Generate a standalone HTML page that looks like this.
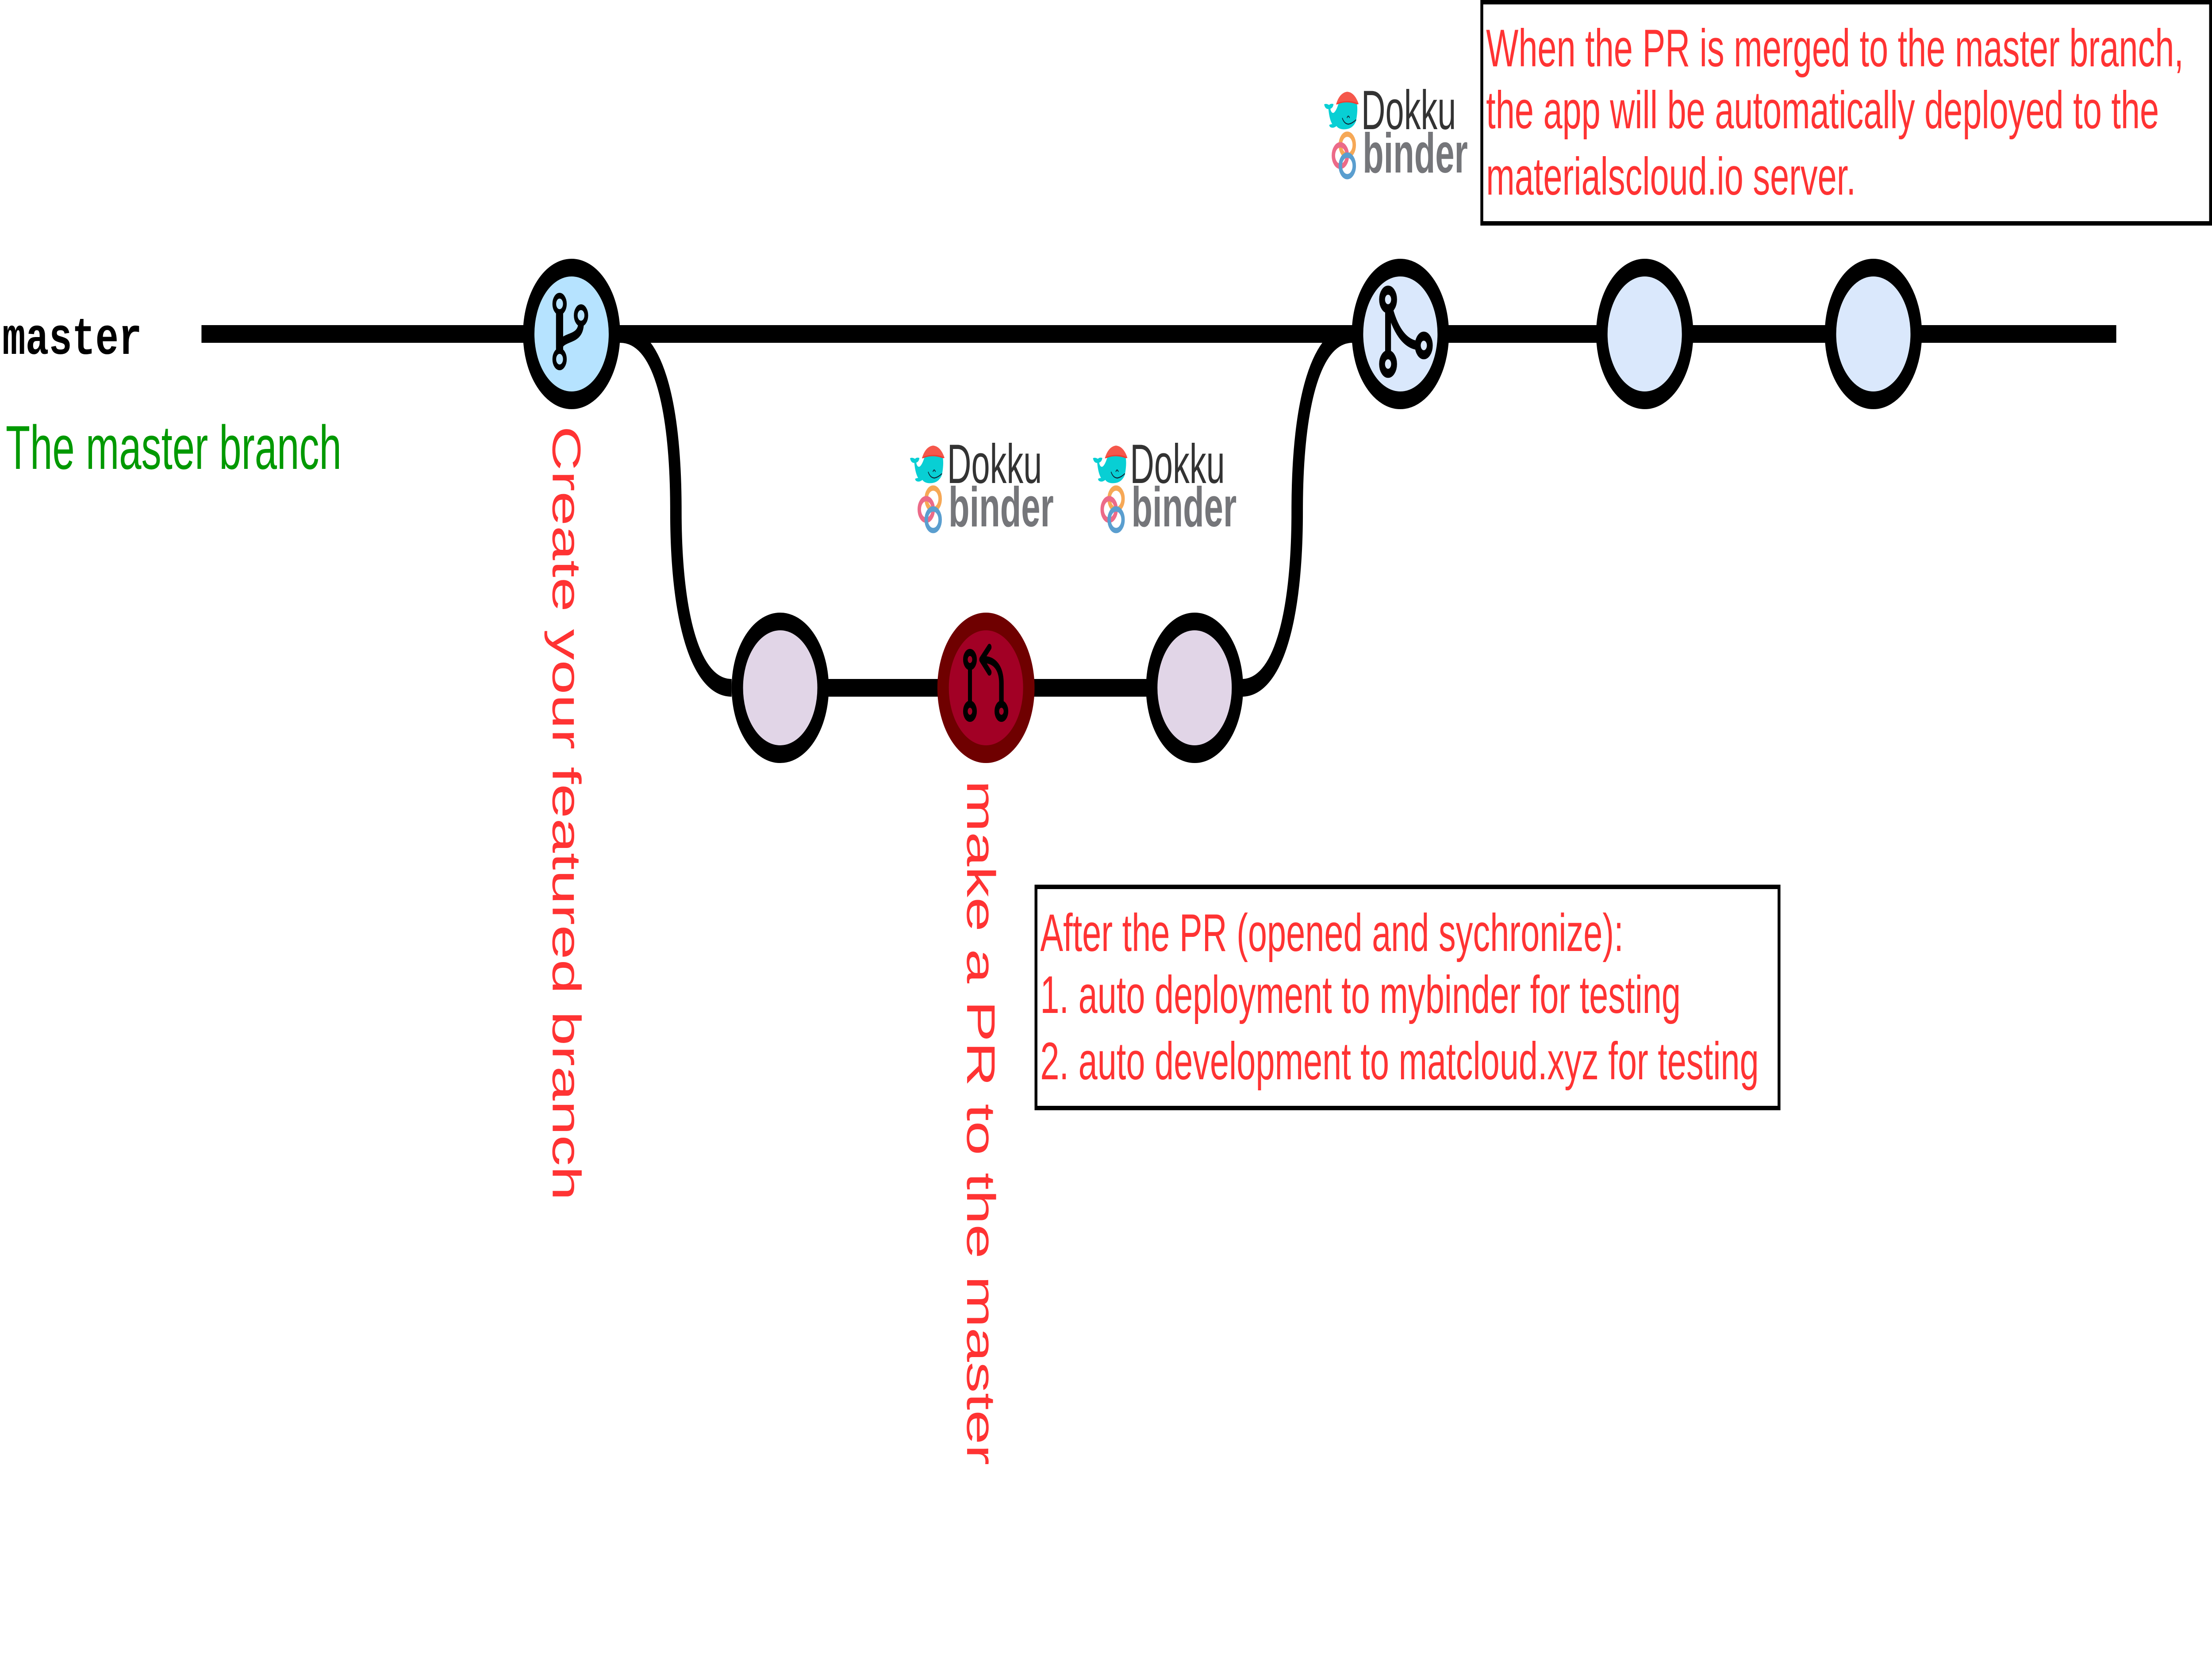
<!DOCTYPE html>
<html><head><meta charset="utf-8"><style>
html,body{margin:0;padding:0;background:#fff;width:100%;height:100%;overflow:hidden}
svg{display:block;width:100vw;height:100vh}
text{font-family:"Liberation Sans",sans-serif}
.r{fill:#ff3333;font-size:120px}
.v{fill:#ff3333;font-size:140px}
.dk{fill:#333;font-size:125px}
.bn{fill:#75767a;font-size:127px;font-weight:bold}
</style></head><body>
<svg viewBox="0 0 7740 3780" preserveAspectRatio="none" xmlns="http://www.w3.org/2000/svg">
<rect width="7740" height="3780" fill="#fff"/>
<!-- connectors -->
<g fill="none" stroke="#000" stroke-width="40">
<path d="M705 755H7405"/>
<path d="M2730 1555H4180"/>
<path d="M2170 755C2295 755 2365 900 2365 1155C2365 1400 2435 1555 2560 1555"/>
<path d="M4732 755C4610 755 4539 900 4539 1155C4539 1400 4470 1555 4345 1555"/>
</g>
<!-- nodes -->
<g stroke="#000" stroke-width="40">
<circle cx="2000" cy="755" r="150" fill="#b6e3ff"/>
<circle cx="2730" cy="1555" r="150" fill="#e1d5e7"/>
<circle cx="3450" cy="1555" r="150" fill="#a20025" stroke="#6f0000"/>
<circle cx="4180" cy="1555" r="150" fill="#e1d5e7"/>
<circle cx="4900" cy="755" r="150" fill="#dae8fc"/>
<circle cx="5755" cy="755" r="150" fill="#dae8fc"/>
<circle cx="6555" cy="755" r="150" fill="#dae8fc"/>
</g>
<!-- branch icon -->
<g fill="none" stroke="#000">
<path d="M1958 705V795" stroke-width="25"/>
<path d="M2033 730C2033 775 1958 755 1958 790" stroke-width="20"/>
<circle cx="1958" cy="687" r="18.500" stroke-width="13"/>
<circle cx="1958" cy="812" r="18.500" stroke-width="13"/>
<circle cx="2033" cy="713" r="18.500" stroke-width="13"/>
</g>
<!-- PR icon -->
<g fill="none" stroke="#000">
<path d="M3394 1510V1590" stroke-width="14"/>
<path d="M3504 1590V1545C3504 1510 3480 1491 3440 1491" stroke-width="16"/>
<path d="M3462 1463L3434 1491L3462 1520" stroke-width="15" stroke-linecap="round" stroke-linejoin="round"/>
<circle cx="3394" cy="1491" r="16" stroke-width="16"/>
<circle cx="3394" cy="1608" r="16" stroke-width="16"/>
<circle cx="3504" cy="1608" r="16" stroke-width="16"/>
</g>
<!-- merge icon -->
<g fill="none" stroke="#000" stroke-width="20.500">
<path d="M4857 700V800"/>
<path d="M4860 690C4880 745 4915 778 4962 781"/>
<circle cx="4857" cy="677" r="21"/>
<circle cx="4857" cy="823" r="21"/>
<circle cx="4982" cy="781" r="21"/>
</g>
<!-- logos -->
<g transform="translate(4620 150) scale(.33333)">
<path d="M165 258Q200 180 280 172Q360 175 402 255Q380 258 345 240Q260 235 190 255Q175 260 165 258Z" fill="#f5574b"/>
<path d="M165 258Q185 240 265 236Q350 232 402 255Q380 262 345 250Q260 245 190 255Z" fill="#f03a30"/>
<path d="M40 258Q60 250 92 262Q110 250 138 256Q135 280 105 288Q115 320 140 315Q165 305 190 255Q280 232 385 258Q395 300 375 370Q340 430 240 427Q190 425 170 405Q130 425 100 410L92 398Q110 392 125 392Q95 360 85 290Q50 290 40 258Z" fill="#08cfd4"/>
<path d="M230 350Q250 390 295 392Q335 388 375 362M280 350Q293 325 307 350" fill="none" stroke="#123" stroke-width="7"/>
<circle cx="283" cy="533" r="73" fill="none" stroke="#f6a856" stroke-width="36"/>
<circle cx="210" cy="605" r="73" fill="none" stroke="#ec6a88" stroke-width="36"/>
<circle cx="283" cy="675" r="73" fill="none" stroke="#5a9ecf" stroke-width="36"/>
</g>
<text class="dk" x="4763" y="292" textLength="332" lengthAdjust="spacingAndGlyphs">Dokku</text>
<text class="bn" x="4768" y="390" textLength="368" lengthAdjust="spacingAndGlyphs">binder</text>

<g transform="translate(3171 950) scale(.33333)">
<path d="M165 258Q200 180 280 172Q360 175 402 255Q380 258 345 240Q260 235 190 255Q175 260 165 258Z" fill="#f5574b"/>
<path d="M165 258Q185 240 265 236Q350 232 402 255Q380 262 345 250Q260 245 190 255Z" fill="#f03a30"/>
<path d="M40 258Q60 250 92 262Q110 250 138 256Q135 280 105 288Q115 320 140 315Q165 305 190 255Q280 232 385 258Q395 300 375 370Q340 430 240 427Q190 425 170 405Q130 425 100 410L92 398Q110 392 125 392Q95 360 85 290Q50 290 40 258Z" fill="#08cfd4"/>
<path d="M230 350Q250 390 295 392Q335 388 375 362M280 350Q293 325 307 350" fill="none" stroke="#123" stroke-width="7"/>
<circle cx="283" cy="533" r="73" fill="none" stroke="#f6a856" stroke-width="36"/>
<circle cx="210" cy="605" r="73" fill="none" stroke="#ec6a88" stroke-width="36"/>
<circle cx="283" cy="675" r="73" fill="none" stroke="#5a9ecf" stroke-width="36"/>
</g>
<text class="dk" x="3314" y="1092" textLength="332" lengthAdjust="spacingAndGlyphs">Dokku</text>
<text class="bn" x="3319" y="1190" textLength="368" lengthAdjust="spacingAndGlyphs">binder</text>

<g transform="translate(3811 950) scale(.33333)">
<path d="M165 258Q200 180 280 172Q360 175 402 255Q380 258 345 240Q260 235 190 255Q175 260 165 258Z" fill="#f5574b"/>
<path d="M165 258Q185 240 265 236Q350 232 402 255Q380 262 345 250Q260 245 190 255Z" fill="#f03a30"/>
<path d="M40 258Q60 250 92 262Q110 250 138 256Q135 280 105 288Q115 320 140 315Q165 305 190 255Q280 232 385 258Q395 300 375 370Q340 430 240 427Q190 425 170 405Q130 425 100 410L92 398Q110 392 125 392Q95 360 85 290Q50 290 40 258Z" fill="#08cfd4"/>
<path d="M230 350Q250 390 295 392Q335 388 375 362M280 350Q293 325 307 350" fill="none" stroke="#123" stroke-width="7"/>
<circle cx="283" cy="533" r="73" fill="none" stroke="#f6a856" stroke-width="36"/>
<circle cx="210" cy="605" r="73" fill="none" stroke="#ec6a88" stroke-width="36"/>
<circle cx="283" cy="675" r="73" fill="none" stroke="#5a9ecf" stroke-width="36"/>
</g>
<text class="dk" x="3954" y="1092" textLength="332" lengthAdjust="spacingAndGlyphs">Dokku</text>
<text class="bn" x="3959" y="1190" textLength="368" lengthAdjust="spacingAndGlyphs">binder</text>

<!-- boxes -->
<rect x="5185" y="5" width="2550" height="500" fill="#fff" stroke="#000" stroke-width="10"/>
<rect x="3625" y="2005" width="2600" height="500" fill="#fff" stroke="#000" stroke-width="10"/>
<text class="r" x="5200" y="150">When the PR is merged to the master branch,</text>
<text class="r" x="5200" y="290">the app will be automatically deployed to the</text>
<text class="r" x="5200" y="440">materialscloud.io server.</text>
<text class="r" x="3640" y="2150">After the PR (opened and sychronize):</text>
<text class="r" x="3640" y="2290">1. auto deployment to mybinder for testing</text>
<text class="r" x="3640" y="2440">2. auto development to matcloud.xyz for testing</text>
<!-- labels -->
<text transform="translate(8 800) scale(1.02 .89)" x="0" y="0" style="font-family:'Liberation Mono',monospace;font-weight:bold;font-size:133px" fill="#000">master</text>
<text x="20" y="1060" style="font-size:140px" fill="#009900">The master branch</text>
<text class="v" transform="translate(1934 963) rotate(90)">Create your featured branch</text>
<text class="v" transform="translate(3384 1764) rotate(90)">make a PR to the master</text>
</svg>
</body></html>
